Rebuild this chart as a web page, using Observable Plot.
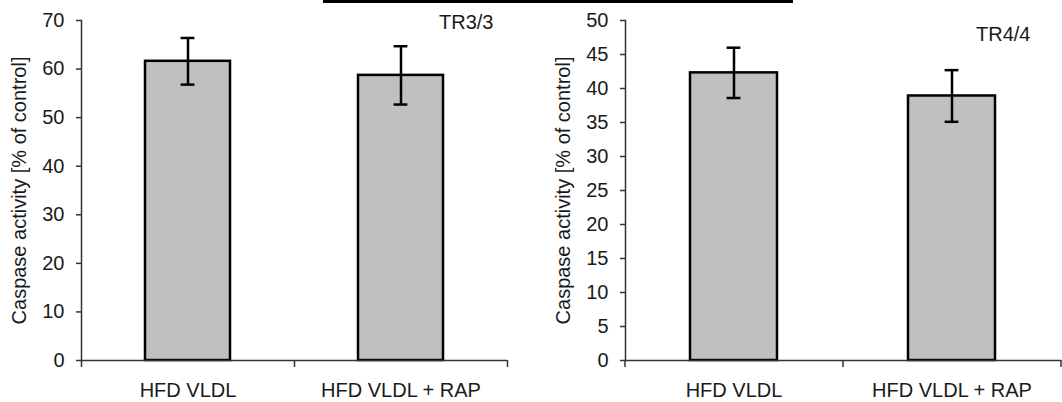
<!DOCTYPE html>
<html><head><meta charset="utf-8">
<script src="https://cdn.jsdelivr.net/npm/d3@7"></script>
<script src="https://cdn.jsdelivr.net/npm/@observablehq/plot@0.6"></script>
<style>
body{margin:0;background:#fff;}
#wrap{position:relative;width:1062px;height:402px;overflow:hidden;display:flex;font-family:"Liberation Sans",Arial,sans-serif;background:#fff;}
#box{position:absolute;left:323px;top:-37px;width:470px;height:40px;border:3px solid #000;box-sizing:border-box;}
</style></head><body>
<div id="wrap"><div id="box"></div></div>
<script>
const categories = ["HFD VLDL", "HFD VLDL + RAP"];
const tr3Means = [61.6, 58.7];
const tr3Errors = [4.8, 6.0];
const tr3Ticks = [0, 10, 20, 30, 40, 50, 60, 70];
const tr4Means = [42.3, 38.9];
const tr4Errors = [3.7, 3.8];
const tr4Ticks = [0, 5, 10, 15, 20, 25, 30, 35, 40, 45, 50];
const yLabel = "Caspase activity [% of control]";

function panel({means, errs, ticks, tag, width, marginLeft, marginRight, tagDx, tagDy}) {
  const data = categories.map((c, i) => ({cat: c, v: means[i], lo: means[i] - errs[i], hi: means[i] + errs[i]}));
  const height = 402, marginTop = 20, marginBottom = 42;
  const step = (width - marginLeft - marginRight) / categories.length;
  const bw = step * 0.4;
  const capInset = (bw - 14) / 2;
  const axisStyle = {stroke: "#333", strokeWidth: 1.5};
  return Plot.plot({
    width, height, marginLeft, marginRight, marginTop, marginBottom,
    style: {fontFamily: "Liberation Sans, Arial, sans-serif", fontSize: "20px", color: "#1a1a1a", background: "#fff", overflow: "visible"},
    x: {domain: categories, paddingInner: 0.6, paddingOuter: 0.3, label: null},
    y: {domain: [0, d3.max(ticks)], label: null},
    marks: [
      Plot.barY(data, {x: "cat", y: "v", fill: "#c0c0c0", stroke: "#000", strokeWidth: 2.5}),
      Plot.ruleX(data, {x: "cat", y1: "lo", y2: "hi", stroke: "#000", strokeWidth: 2.5}),
      Plot.tickY(data, {x: "cat", y: "lo", insetLeft: capInset, insetRight: capInset, stroke: "#000", strokeWidth: 2.5}),
      Plot.tickY(data, {x: "cat", y: "hi", insetLeft: capInset, insetRight: capInset, stroke: "#000", strokeWidth: 2.5}),
      Plot.frame({anchor: "left", ...axisStyle}),
      Plot.ruleY([0], axisStyle),
      Plot.ruleX(categories, {x: d => d, dx: -step / 2, y1: 0, y2: 0, insetBottom: -7, ...axisStyle}),
      Plot.ruleX([categories[categories.length - 1]], {x: d => d, dx: step / 2, y1: 0, y2: 0, insetBottom: -7, ...axisStyle}),
      Plot.axisY({ticks, tickSize: 5, tickPadding: 12, ...axisStyle, fill: "#1a1a1a", fontSize: 20,
        label: yLabel, labelArrow: "none", labelAnchor: "center", labelOffset: 70}),
      Plot.axisX({tickSize: 0, tickPadding: 22, fill: "#1a1a1a", fontSize: 20, label: null}),
      Plot.text([tag], {text: d => d, frameAnchor: "top-right", textAnchor: "end", lineAnchor: "bottom", dx: tagDx, dy: tagDy, fontSize: 20, fill: "#1a1a1a"})
    ]
  });
}

const wrap = document.getElementById("wrap");
wrap.appendChild(panel({means: tr3Means, errs: tr3Errors, ticks: tr3Ticks, tag: "TR3/3", width: 531, marginLeft: 81, marginRight: 24, tagDx: -14, tagDy: 8}));
wrap.appendChild(panel({means: tr4Means, errs: tr4Errors, ticks: tr4Ticks, tag: "TR4/4", width: 531, marginLeft: 94, marginRight: 1, tagDx: -31, tagDy: 20}));
</script>
</body></html>
